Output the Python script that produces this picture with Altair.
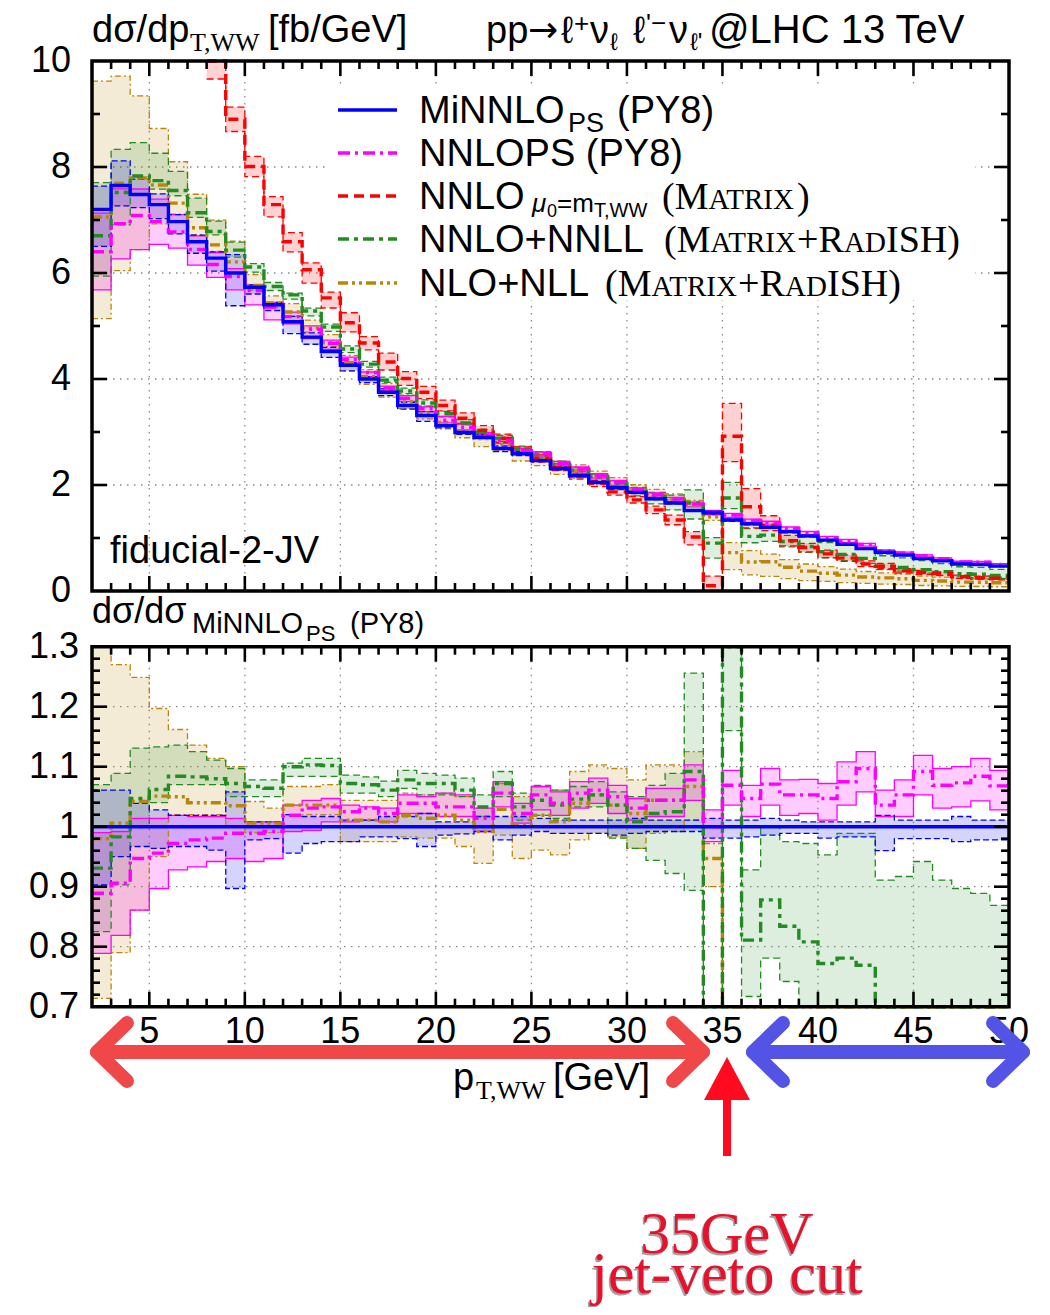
import altair as alt
import pandas as pd

# ---------------- data ----------------
bin_lo = list(range(2, 50))      # 1-GeV bins: lower edges 2..49, last bin ends at 50

# MiNNLO_PS (PY8) central value, upper panel [fb/GeV]
mi_c = [7.20, 7.65, 7.48, 7.29, 6.97, 6.59, 6.28, 6.00, 5.73, 5.40,
        5.08, 4.79, 4.52, 4.26, 4.00, 3.75, 3.50, 3.31, 3.12, 2.99,
        2.90, 2.69, 2.59, 2.46, 2.31, 2.18, 2.05, 1.95, 1.86, 1.74,
        1.66, 1.52, 1.48, 1.34, 1.27, 1.20, 1.12, 1.04, 0.96, 0.88,
        0.80, 0.73, 0.68, 0.61, 0.57, 0.51, 0.50, 0.47]
# MiNNLO_PS band, as ratio to its central value
mi_r_lo = [0.903, 0.950, 0.967, 0.964, 0.967, 0.967, 0.961, 0.897, 0.978, 0.980,
           0.956, 0.972, 0.975, 0.975, 0.983, 0.983, 0.980, 0.967, 0.986, 0.988,
           0.992, 0.978, 0.986, 0.992, 0.989, 0.989, 0.989, 0.986, 0.989, 0.992,
           0.992, 0.992, 0.981, 0.981, 0.983, 0.986, 0.989, 0.989, 0.981, 0.983,
           0.983, 0.960, 0.980, 0.980, 0.980, 0.975, 0.978, 0.978]
mi_r_hi = [1.061, 1.061, 1.039, 1.028, 1.019, 1.019, 1.019, 1.058, 1.008, 1.008,
           1.020, 1.017, 1.017, 1.011, 1.011, 1.017, 1.017, 1.022, 1.008, 1.008,
           1.017, 1.017, 1.017, 1.014, 1.011, 1.011, 1.011, 1.011, 1.014, 1.011,
           1.011, 1.011, 1.014, 1.011, 1.011, 1.014, 1.011, 1.008, 1.008, 1.008,
           1.008, 1.019, 1.011, 1.011, 1.011, 1.017, 1.011, 1.011]

# NNLOPS (PY8), ratio to MiNNLO_PS
nnlops_r_c = [0.889, 0.906, 0.947, 0.956, 0.972, 0.978, 0.981, 0.989, 0.989, 0.992,
              1.019, 1.031, 1.033, 1.025, 1.031, 1.022, 1.039, 1.039, 1.033, 1.033,
              1.014, 1.056, 1.022, 1.053, 1.039, 1.056, 1.061, 1.050, 1.031, 1.044,
              1.044, 1.078, 1.000, 1.069, 1.047, 1.071, 1.053, 1.053, 1.047, 1.075,
              1.097, 1.036, 1.053, 1.092, 1.069, 1.073, 1.084, 1.068]
nnlops_r_lo = [0.789, 0.819, 0.861, 0.897, 0.928, 0.933, 0.942, 0.947, 0.942, 0.947,
               0.992, 0.994, 1.008, 1.008, 1.011, 1.008, 1.022, 1.022, 1.017, 1.017,
               0.992, 1.033, 1.006, 1.028, 1.019, 1.031, 1.039, 1.022, 1.011, 1.017,
               1.017, 1.044, 0.975, 1.036, 1.017, 1.036, 1.019, 1.022, 1.011, 1.036,
               1.058, 1.017, 1.017, 1.053, 1.031, 1.033, 1.043, 1.028]
nnlops_r_hi = [0.990, 0.992, 1.014, 1.014, 1.019, 1.017, 1.017, 1.014, 1.008, 1.008,
               1.036, 1.044, 1.047, 1.036, 1.033, 1.031, 1.053, 1.050, 1.056, 1.053,
               1.031, 1.075, 1.039, 1.067, 1.058, 1.075, 1.081, 1.069, 1.047, 1.064,
               1.064, 1.103, 1.028, 1.094, 1.069, 1.097, 1.078, 1.079, 1.072, 1.108,
               1.125, 1.061, 1.078, 1.119, 1.097, 1.100, 1.114, 1.094]

# NNLO+NNLL (MATRIX+RadISH), ratio to MiNNLO_PS
nnll_r_c = [0.931, 0.983, 1.047, 1.062, 1.084, 1.083, 1.080, 1.072, 1.067, 1.064,
            1.100, 1.103, 1.102, 1.072, 1.070, 1.061, 1.078, 1.072, 1.072, 1.061,
            1.033, 1.072, 1.033, 1.044, 1.036, 1.046, 1.053, 1.036, 1.008, 1.022,
            1.025, 1.092, 0.610, 1.310, 0.811, 0.878, 0.834, 0.808, 0.772, 0.781,
            0.769, 0.640, 0.650, 0.660, 0.640, 0.640, 0.630, 0.620]
nnll_r_lo = [0.825, 0.903, 1.000, 1.040, 1.070, 1.070, 1.070, 1.050, 1.050, 1.050,
             1.084, 1.084, 1.084, 1.056, 1.056, 1.050, 1.064, 1.053, 1.053, 1.050,
             1.017, 1.050, 1.011, 1.019, 1.014, 1.033, 1.033, 0.981, 0.964, 0.944,
             0.922, 0.894, 0.420, 1.160, 0.717, 0.781, 0.742, 0.700, 0.650, 0.650,
             0.650, 0.550, 0.550, 0.550, 0.520, 0.520, 0.500, 0.500]
nnll_r_hi = [1.070, 1.089, 1.131, 1.133, 1.136, 1.125, 1.111, 1.097, 1.078, 1.078,
             1.106, 1.114, 1.114, 1.086, 1.083, 1.076, 1.094, 1.089, 1.086, 1.081,
             1.053, 1.092, 1.056, 1.069, 1.061, 1.067, 1.075, 1.058, 1.050, 1.069,
             1.089, 1.256, 0.680, 1.530, 0.928, 1.000, 0.975, 0.972, 0.953, 0.989,
             0.989, 0.911, 0.917, 0.942, 0.911, 0.897, 0.889, 0.869]

# NLO+NLL (MATRIX+RadISH), ratio to MiNNLO_PS
nll_r_c = [0.980, 1.006, 1.042, 1.051, 1.050, 1.040, 1.040, 1.035, 1.006, 1.006,
           1.036, 1.036, 1.036, 1.011, 1.011, 1.008, 1.019, 1.014, 1.019, 1.011,
           0.992, 1.029, 1.003, 1.019, 1.008, 1.039, 1.053, 1.036, 1.022, 1.044,
           1.044, 1.067, 0.947, 0.540, 0.430, 0.460, 0.400, 0.360, 0.350, 0.340,
           0.330, 0.340, 0.340, 0.330, 0.330, 0.330, 0.330, 0.330]
nll_r_lo = [0.714, 0.790, 0.861, 0.950, 1.020, 1.020, 1.020, 1.000, 0.990, 0.990,
            1.020, 1.020, 1.020, 0.975, 0.975, 0.975, 0.983, 0.981, 0.981, 0.967,
            0.939, 0.986, 0.947, 0.961, 0.953, 0.978, 0.989, 0.983, 0.964, 0.989,
            0.992, 1.011, 0.900, 0.300, 0.240, 0.230, 0.210, 0.190, 0.190, 0.180,
            0.180, 0.180, 0.180, 0.170, 0.170, 0.170, 0.170, 0.170]
nll_r_hi = [1.336, 1.270, 1.249, 1.197, 1.162, 1.136, 1.114, 1.100, 1.042, 1.031,
            1.067, 1.067, 1.070, 1.044, 1.044, 1.044, 1.056, 1.053, 1.056, 1.050,
            1.031, 1.072, 1.050, 1.067, 1.061, 1.092, 1.103, 1.097, 1.078, 1.103,
            1.103, 1.125, 0.972, 0.680, 0.600, 0.580, 0.530, 0.490, 0.480, 0.470,
            0.460, 0.470, 0.470, 0.460, 0.460, 0.460, 0.460, 0.460]

# NNLO mu0=mT,WW (MATRIX), upper panel only [fb/GeV]
nnlo_c = [16.0, 15.0, 13.6, 12.6, 11.7, 10.9, 10.1, 8.90, 8.01, 7.29,
          6.59, 6.06, 5.53, 5.06, 4.68, 4.32, 4.01, 3.75, 3.50, 3.26,
          3.03, 2.88, 2.65, 2.50, 2.33, 2.17, 2.03, 1.87, 1.72, 1.53,
          1.34, 1.02, 0.10, 2.92, 1.59, 1.24, 0.95, 0.82, 0.70, 0.62,
          0.51, 0.47, 0.38, 0.35, 0.33, 0.27, 0.25, 0.24]
nnlo_lo = [15.5, 14.5, 13.1, 12.2, 11.3, 10.5, 9.66, 8.67, 7.82, 7.06,
           6.40, 5.81, 5.34, 4.89, 4.55, 4.17, 3.88, 3.63, 3.40, 3.16,
           2.95, 2.80, 2.58, 2.43, 2.27, 2.11, 1.97, 1.81, 1.66, 1.46,
           1.25, 0.87, 0.00, 2.44, 1.19, 1.14, 0.85, 0.74, 0.63, 0.56,
           0.46, 0.42, 0.34, 0.31, 0.29, 0.24, 0.22, 0.21]
nnlo_hi = [16.5, 15.5, 14.1, 13.0, 12.1, 11.3, 10.5, 9.13, 8.20, 7.44,
           6.76, 6.19, 5.64, 5.25, 4.80, 4.49, 4.14, 3.86, 3.60, 3.36,
           3.12, 2.96, 2.72, 2.57, 2.40, 2.23, 2.09, 1.93, 1.78, 1.60,
           1.43, 1.12, 0.28, 3.54, 1.93, 1.42, 1.05, 0.90, 0.77, 0.68,
           0.57, 0.52, 0.42, 0.39, 0.36, 0.30, 0.28, 0.26]

# axis ticks / labels
x_major = [5, 10, 15, 20, 25, 30, 35, 40, 45]
x_labels = [5, 10, 15, 20, 25, 30, 35, 40, 45, 50]
x_minor = [v for v in range(3, 50) if v % 5 != 0]
yu_major = [2, 4, 6, 8]
yu_minor = [1, 3, 5, 7, 9]
yu_labels = [0, 2, 4, 6, 8, 10]
yl_major = [0.8, 0.9, 1.0, 1.1, 1.2]
yl_minor = [round(0.70 + 0.02 * i, 2) for i in range(1, 30) if i % 5 != 0]
yl_labels = [0.7, 0.8, 0.9, 1.0, 1.1, 1.2, 1.3]
yl_label_text = ["0.7", "0.8", "0.9", "1", "1.1", "1.2", "1.3"]

# ---------------- layout ----------------
OFF = 8  # page margin
SANS = "Liberation Sans, Arial, Helvetica, sans-serif"
SERIF = "Liberation Serif, Times New Roman, serif"
DEJ = "DejaVu Sans, sans-serif"

XL, XRt = 92 - OFF, 1009 - OFF
UT, UB = 61 - OFF, 591 - OFF
LT, LB = 646.7 - OFF, 1006.7 - OFF

XS = alt.Scale(domain=[2, 50], range=[XL, XRt], nice=False, zero=False, clamp=True)
YU = alt.Scale(domain=[0, 10], range=[UB, UT], nice=False, zero=False, clamp=True)
YL = alt.Scale(domain=[0.7, 1.3], range=[LB, LT], nice=False, zero=False, clamp=True)

ONE = pd.DataFrame({"k": [0]})

STY = {
    "mi": dict(color="#0000ff", op=0.17, cdash=None, bdash=[6, 3]),
    "nnlops": dict(color="#ff00ff", op=0.20, cdash=[12, 5, 3, 5], bdash=None),
    "nnlo": dict(color="#ff0000", op=0.18, cdash=[10, 6], bdash=[7, 4]),
    "nnll": dict(color="#228b22", op=0.15, cdash=[11, 5, 4, 5], bdash=[7, 4]),
    "nll": dict(color="#b8860b", op=0.17, cdash=[10, 4, 3, 4, 3, 4], bdash=[6, 3, 2, 3]),
}


def step_df(xs, cols):
    d = {"x": list(xs) + [xs[-1] + 1]}
    for k, v in cols.items():
        d[k] = list(v) + [v[-1]]
    return pd.DataFrame(d)


def line_layer(xs, vals, ys, color, width, dash=None):
    kw = dict(interpolate="step-after", color=color, strokeWidth=width)
    if dash:
        kw["strokeDash"] = dash
    return alt.Chart(step_df(xs, {"y": vals})).mark_line(**kw).encode(
        x=alt.X("x:Q", scale=XS, axis=None),
        y=alt.Y("y:Q", scale=ys, axis=None))


def area_layer(xs, lo, hi, ys, color, op):
    return alt.Chart(step_df(xs, {"lo": lo, "hi": hi})).mark_area(
        interpolate="step-after", color=color, opacity=op).encode(
        x=alt.X("x:Q", scale=XS, axis=None),
        y=alt.Y("lo:Q", scale=ys, axis=None),
        y2="hi:Q")


def txt(s, x, y, size, font=SANS, color="black", align="left",
        baseline="alphabetic", style="normal", opacity=1.0):
    return alt.Chart(ONE).mark_text(
        text=s, align=align, baseline=baseline, font=font, fontSize=size,
        fontStyle=style, color=color, opacity=opacity).encode(
        x=alt.value(x - OFF), y=alt.value(y - OFF))


def seg(x1, y1, x2, y2, color, w, cap="round", dash=None):
    kw = dict(color=color, strokeWidth=w, strokeCap=cap)
    if dash:
        kw["strokeDash"] = dash
    return alt.Chart(ONE).mark_rule(**kw).encode(
        x=alt.value(x1 - OFF), y=alt.value(y1 - OFF),
        x2=alt.value(x2 - OFF), y2=alt.value(y2 - OFF))


def vals_df(v):
    return pd.DataFrame({"v": v})


layers = []

# ---- grid (dotted) ----
GRID = dict(color="#8a8a8a", strokeWidth=1.3, strokeDash=[1.5, 5.5])
for top, bot in [(UT, UB), (LT, LB)]:
    layers.append(alt.Chart(vals_df(x_major)).mark_rule(**GRID).encode(
        x=alt.X("v:Q", scale=XS, axis=None), y=alt.value(top), y2=alt.value(bot)))
layers.append(alt.Chart(vals_df(yu_major)).mark_rule(**GRID).encode(
    y=alt.Y("v:Q", scale=YU, axis=None), x=alt.value(XL), x2=alt.value(XRt)))
layers.append(alt.Chart(vals_df([0.8, 0.9, 1.1, 1.2])).mark_rule(**GRID).encode(
    y=alt.Y("v:Q", scale=YL, axis=None), x=alt.value(XL), x2=alt.value(XRt)))

# legend background (hides grid under the key)
layers.append(alt.Chart(ONE).mark_rect(color="white").encode(
    x=alt.value(330 - OFF), x2=alt.value(975 - OFF),
    y=alt.value(88 - OFF), y2=alt.value(300 - OFF)))

# ---- upper panel series ----
def mul(r, c):
    return [round(a * b, 4) for a, b in zip(r, c)]

keep = [i for i in range(len(bin_lo)) if nnlo_lo[i] <= 10]
nnlo_x = [bin_lo[i] for i in keep]

upper = {
    "nll": (bin_lo, mul(nll_r_c, mi_c), mul(nll_r_lo, mi_c), mul(nll_r_hi, mi_c)),
    "nnll": (bin_lo, mul(nnll_r_c, mi_c), mul(nnll_r_lo, mi_c), mul(nnll_r_hi, mi_c)),
    "nnlo": (nnlo_x, [nnlo_c[i] for i in keep], [nnlo_lo[i] for i in keep],
             [nnlo_hi[i] for i in keep]),
    "nnlops": (bin_lo, mul(nnlops_r_c, mi_c), mul(nnlops_r_lo, mi_c), mul(nnlops_r_hi, mi_c)),
    "mi": (bin_lo, mi_c, mul(mi_r_lo, mi_c), mul(mi_r_hi, mi_c)),
}
lower = {
    "nll": (bin_lo, nll_r_c, nll_r_lo, nll_r_hi),
    "nnll": (bin_lo, nnll_r_c, nnll_r_lo, nnll_r_hi),
    "nnlops": (bin_lo, nnlops_r_c, nnlops_r_lo, nnlops_r_hi),
    "mi": (bin_lo, [round(c / c, 4) for c in mi_c], mi_r_lo, mi_r_hi),
}

for panel, ys in [(upper, YU), (lower, YL)]:
    for k, (xs, c, lo, hi) in panel.items():
        layers.append(area_layer(xs, lo, hi, ys, STY[k]["color"], STY[k]["op"]))
    for k, (xs, c, lo, hi) in panel.items():
        layers.append(line_layer(xs, lo, ys, STY[k]["color"], 1.3, STY[k]["bdash"]))
        layers.append(line_layer(xs, hi, ys, STY[k]["color"], 1.3, STY[k]["bdash"]))
    for k, (xs, c, lo, hi) in panel.items():
        layers.append(line_layer(xs, c, ys, STY[k]["color"], 3.4, STY[k]["cdash"]))

# ---- frames and ticks ----
for ys, d0, d1 in [(YU, 0, 10), (YL, 0.7, 1.3)]:
    fr = pd.DataFrame({"x0": [2], "x1": [50], "y0": [d0], "y1": [d1]})
    layers.append(alt.Chart(fr).mark_rect(fillOpacity=0, stroke="black", strokeWidth=3.5).encode(
        x=alt.X("x0:Q", scale=XS, axis=None), x2="x1:Q",
        y=alt.Y("y0:Q", scale=ys, axis=None), y2="y1:Q"))

TICK = dict(color="black", strokeWidth=2.6)
MAJ, MIN = 15, 8
for top, bot in [(UT, UB), (LT, LB)]:
    for vals, ln in [(x_major, MAJ), (x_minor, MIN)]:
        layers.append(alt.Chart(vals_df(vals)).mark_rule(**TICK).encode(
            x=alt.X("v:Q", scale=XS, axis=None), y=alt.value(bot), y2=alt.value(bot - ln)))
        layers.append(alt.Chart(vals_df(vals)).mark_rule(**TICK).encode(
            x=alt.X("v:Q", scale=XS, axis=None), y=alt.value(top), y2=alt.value(top + ln)))
for ys, maj, mnr in [(YU, yu_major, yu_minor), (YL, yl_major, yl_minor)]:
    for vals, ln in [(maj, MAJ), (mnr, MIN)]:
        layers.append(alt.Chart(vals_df(vals)).mark_rule(**TICK).encode(
            y=alt.Y("v:Q", scale=ys, axis=None), x=alt.value(XL), x2=alt.value(XL + ln)))
        layers.append(alt.Chart(vals_df(vals)).mark_rule(**TICK).encode(
            y=alt.Y("v:Q", scale=ys, axis=None), x=alt.value(XRt), x2=alt.value(XRt - ln)))

# ---- tick labels ----
TL = 36
layers.append(alt.Chart(pd.DataFrame({"v": yu_labels, "t": [str(v) for v in yu_labels]})).mark_text(
    align="right", baseline="middle", font=SANS, fontSize=TL, color="black").encode(
    y=alt.Y("v:Q", scale=YU, axis=None), x=alt.value(71 - OFF), text="t:N"))
layers.append(alt.Chart(pd.DataFrame({"v": yl_labels, "t": yl_label_text})).mark_text(
    align="right", baseline="middle", font=SANS, fontSize=TL, color="black").encode(
    y=alt.Y("v:Q", scale=YL, axis=None), x=alt.value(79 - OFF), text="t:N"))
layers.append(alt.Chart(pd.DataFrame({"v": x_labels, "t": [str(v) for v in x_labels]})).mark_text(
    align="center", baseline="middle", font=SANS, fontSize=TL, color="black").encode(
    x=alt.X("v:Q", scale=XS, axis=None), y=alt.value(1032 - OFF), text="t:N"))

# ---- titles ----
FS = 38
layers += [
    txt("dσ/dp", 92, 42, FS),
    txt("T,WW", 190, 51, 26, font=SERIF),
    txt("[fb/GeV]", 268, 42, FS),
    txt("pp", 486, 43, FS),
    txt("→", 528, 42, 36, font=DEJ),
    txt("ℓ", 561, 43, FS),
    txt("+", 574, 32, 26),
    txt("ν", 590, 43, FS),
    txt("ℓ", 610, 50, 24),
    txt("ℓ", 633, 43, FS),
    txt("'−", 646, 32, 26),
    txt("ν", 669, 43, FS),
    txt("ℓ'", 690, 50, 24),
    txt("@LHC 13 TeV", 709, 43, 40),
    txt("fiducial-2-JV", 110, 563, FS),
    txt("dσ/dσ", 92, 623, 36),
    txt("MiNNLO", 192, 633, 29),
    txt("PS", 306, 641, 22),
    txt("(PY8)", 350, 633, 29),
    txt("p", 453, 1090, FS),
    txt("T,WW", 476, 1099, 26, font=SERIF),
    txt("[GeV]", 553, 1090, FS),
]

# ---- legend ----
rows = [("mi", 110), ("nnlops", 153), ("nnlo", 196), ("nnll", 239), ("nll", 283)]
for k, yy in rows:
    layers.append(seg(338, yy, 397, yy, STY[k]["color"], 3.4, cap="butt", dash=STY[k]["cdash"]))

LS = 38
SC = 29
r1, r2, r3, r4, r5 = [yy + 13 for _, yy in rows]
layers += [
    txt("MiNNLO", 419, r1, LS), txt("PS", 568, r1 + 9, 27), txt("(PY8)", 617, r1, LS),
    txt("NNLOPS (PY8)", 419, r2, LS),
    txt("NNLO", 419, r3, LS), txt("μ", 532, r3 + 3, 26, style="italic"),
    txt("0", 547, r3 + 8, 18), txt("=m", 557, r3 + 3, 26), txt("T,WW", 594, r3 + 8, 20),
    txt("(M", 662, r3, LS, font=SERIF), txt("ATRIX", 708.5, r3, SC, font=SERIF),
    txt(")", 797, r3, LS, font=SERIF),
    txt("NNLO+NNLL", 419, r4, LS),
    txt("(M", 664, r4, LS, font=SERIF), txt("ATRIX", 710.5, r4, SC, font=SERIF),
    txt("+R", 797, r4, LS, font=SERIF), txt("AD", 844, r4, SC, font=SERIF),
    txt("ISH)", 886, r4, LS, font=SERIF),
    txt("NLO+NLL", 419, r5, LS),
    txt("(M", 605, r5, LS, font=SERIF), txt("ATRIX", 651.5, r5, SC, font=SERIF),
    txt("+R", 738, r5, LS, font=SERIF), txt("AD", 785, r5, SC, font=SERIF),
    txt("ISH)", 827, r5, LS, font=SERIF),
]

# ---- annotations below the plot ----
RED_A = "#f04848"
BLUE_A = "#5353e6"
AY = 1052
layers += [
    seg(100, AY, 700, AY, RED_A, 14, cap="butt"),
    seg(97, AY, 127, AY - 29, RED_A, 14), seg(97, AY, 127, AY + 29, RED_A, 14),
    seg(703, AY, 673, AY - 29, RED_A, 14), seg(703, AY, 673, AY + 29, RED_A, 14),
    seg(756, AY, 1020, AY, BLUE_A, 14, cap="butt"),
    seg(753, AY, 783, AY - 29, BLUE_A, 14), seg(753, AY, 783, AY + 29, BLUE_A, 14),
    seg(1023, AY, 993, AY - 29, BLUE_A, 14), seg(1023, AY, 993, AY + 29, BLUE_A, 14),
    seg(727, 1095, 727, 1156, "#ff0a1e", 8, cap="butt"),
]
layers.append(alt.Chart(ONE).mark_point(
    shape="M0,-1L1,0.87L-1,0.87Z", size=2116, filled=True, color="#ff0a1e", opacity=1).encode(
    x=alt.value(727 - OFF), y=alt.value(1080 - OFF)))

for s, yy in [("35GeV", 1253), ("jet-veto cut", 1293)]:
    layers.append(txt(s, 725.5, yy + 1.5, 60, font=SERIF, color="#333333", align="center", opacity=0.45))
    layers.append(txt(s, 727, yy, 60, font=SERIF, color="#e8102a", align="center"))

chart = alt.layer(*layers).resolve_scale(x="independent", y="independent").properties(
    width=1034, height=1299, padding=0, autosize="none"
).configure_view(stroke="transparent")

chart.save("out.html", embed_options={"renderer": "svg", "actions": False})
